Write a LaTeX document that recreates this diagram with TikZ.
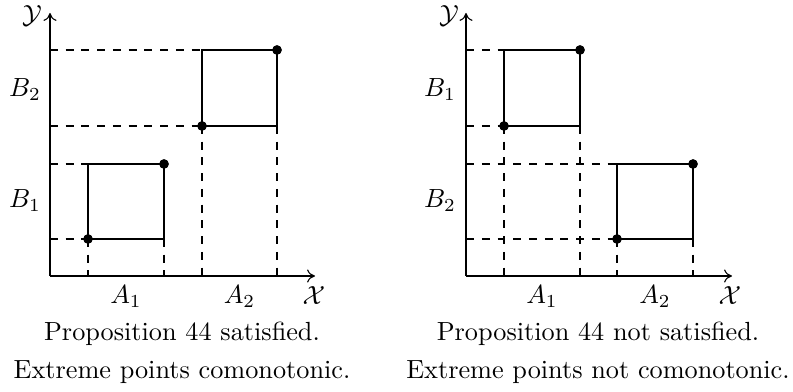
\documentclass[tikz,border=0pt]{standalone}
\usetikzlibrary{arrows.meta}
\begin{document}
\begin{tikzpicture}[x=0.381pt,y=-0.381pt,
  axis/.style={-{To[length=3pt,width=5pt]}, line width=0.4pt},
  guide/.style={dashed, line width=0.4pt},
  boxline/.style={line width=0.4pt},
  dot/.style={circle, fill=black, inner sep=0pt, minimum size=3.6pt},
  lab/.style={inner sep=0pt},
  captext/.style={inner sep=0pt, anchor=base}]
\path[use as bounding box] (0,0) rectangle (793,392);

% ---------- left plot ----------
\coordinate (O1) at (50,276);
\coordinate (X1) at (315,276);
\coordinate (Y1) at (50,13);
\node[dot] (p11) at (88,239) {};
\node[dot] (p12) at (164,164) {};
\node[dot] (p21) at (202,126) {};
\node[dot] (p22) at (277,50) {};
\coordinate (c1) at (p11.center |- p12.center);
\coordinate (c2) at (p12.center |- p11.center);
\coordinate (c3) at (p21.center |- p22.center);
\coordinate (c4) at (p22.center |- p21.center);

\draw[guide] (p11.center -| O1) -- (p11.center);
\draw[guide] (p12.center -| O1) -- (c1);
\draw[guide] (p21.center -| O1) -- (p21.center);
\draw[guide] (p22.center -| O1) -- (c3);
\draw[guide] (p11.center) -- (p11.center |- O1);
\draw[guide] (c2) -- (c2 |- O1);
\draw[guide] (p21.center) -- (p21.center |- O1);
\draw[guide] (c4) -- (c4 |- O1);

\draw[boxline] (p11.center) rectangle (p12.center);
\draw[boxline] (p21.center) rectangle (p22.center);
\draw[axis] (O1) -- (X1);
\draw[axis] (O1) -- (Y1);
\node[dot] at (p11) {};
\node[dot] at (p12) {};
\node[dot] at (p21) {};
\node[dot] at (p22) {};

\node[lab] (ly1) at (32,16) {$\mathcal{Y}$};
\node[lab] (lx1) at (314,296) {$\mathcal{X}$};
\node[lab, anchor=base] (la11) at (126,304) {$A_1$};
\node[lab, anchor=base] (la12) at (239.5,304) {$A_2$};
\node[lab, anchor=base] (lb12) at (25,97) {$B_2$};
\node[lab, anchor=base] (lb11) at (25,208) {$B_1$};
\node[captext] (t11) at (182,341) {Proposition 44 satisfied.};
\node[captext] (t12) at (182,379) {Extreme points comonotonic.};

% ---------- right plot ----------
\coordinate (O2) at (466,276);
\coordinate (X2) at (732,276);
\coordinate (Y2) at (466,13);
\node[dot] (q11) at (504,126) {};
\node[dot] (q12) at (580,50) {};
\node[dot] (q21) at (617,239) {};
\node[dot] (q22) at (693,164) {};
\coordinate (d1) at (q11.center |- q12.center);
\coordinate (d2) at (q12.center |- q11.center);
\coordinate (d3) at (q21.center |- q22.center);
\coordinate (d4) at (q22.center |- q21.center);

\draw[guide] (q11.center -| O2) -- (q11.center);
\draw[guide] (q12.center -| O2) -- (d1);
\draw[guide] (q21.center -| O2) -- (q21.center);
\draw[guide] (q22.center -| O2) -- (d3);
\draw[guide] (q11.center) -- (q11.center |- O2);
\draw[guide] (d2) -- (d2 |- O2);
\draw[guide] (q21.center) -- (q21.center |- O2);
\draw[guide] (d4) -- (d4 |- O2);

\draw[boxline] (q11.center) rectangle (q12.center);
\draw[boxline] (q21.center) rectangle (q22.center);
\draw[axis] (O2) -- (X2);
\draw[axis] (O2) -- (Y2);
\node[dot] at (q11) {};
\node[dot] at (q12) {};
\node[dot] at (q21) {};
\node[dot] at (q22) {};

\node[lab] (ly2) at (449,16) {$\mathcal{Y}$};
\node[lab] (lx2) at (730,296) {$\mathcal{X}$};
\node[lab, anchor=base] (la21) at (542,304) {$A_1$};
\node[lab, anchor=base] (la22) at (655,304) {$A_2$};
\node[lab, anchor=base] (lb21) at (440,97) {$B_1$};
\node[lab, anchor=base] (lb22) at (440,208) {$B_2$};
\node[captext] (t21) at (598,341) {Proposition 44 not satisfied.};
\node[captext] (t22) at (598,379) {Extreme points not comonotonic.};
\end{tikzpicture}
\end{document}
